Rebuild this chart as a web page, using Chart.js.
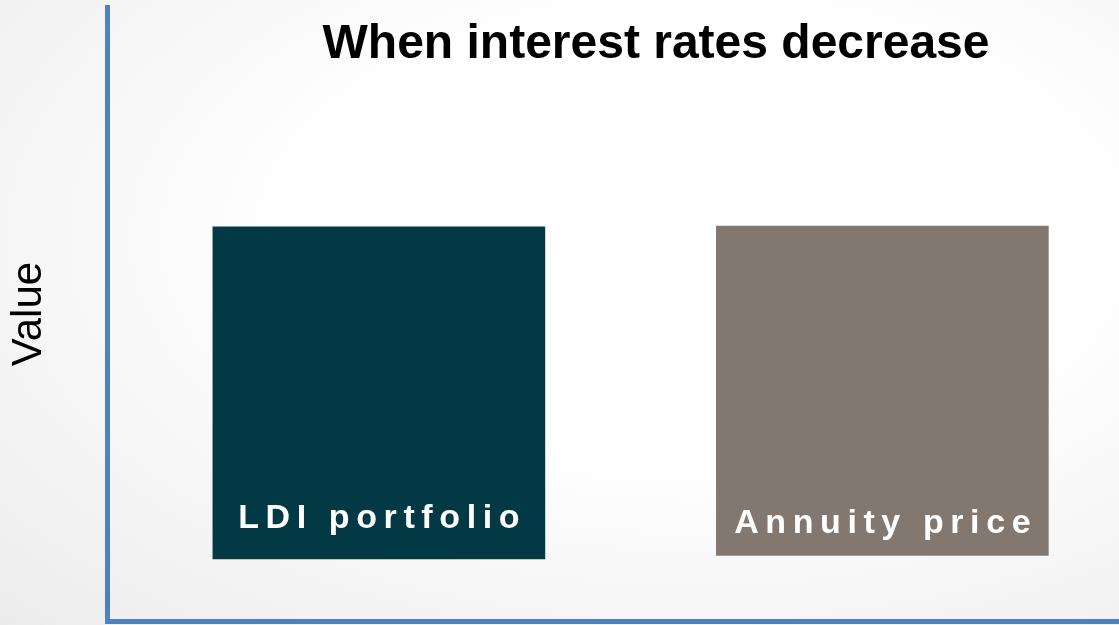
<!DOCTYPE html>
<html>
<head>
<meta charset="utf-8">
<title>When interest rates decrease</title>
<script src="https://cdn.jsdelivr.net/npm/chart.js@4.4.1/dist/chart.umd.min.js"></script>
<style>
  html, body { margin: 0; padding: 0; }
  body {
    width: 1119px;
    height: 625px;
    overflow: hidden;
    background: radial-gradient(ellipse at 62% 38%, #ffffff 40%, #ececec 100%);
  }
  canvas { display: block; }
</style>
</head>
<body>
<canvas id="chart" width="1119" height="625"></canvas>
<script>
// Bars: position on the x axis, floating from low to high value
const labels = ['LDI portfolio', 'Annuity price'];
const positions = [0, 1];
const lowValues = [10.1, 10.7];
const highValues = [64.2, 64.3];
const barColors = ['#033845', '#83786f'];

const chartTitle = 'When interest rates decrease';
const yTitle = 'Value';

const FONT = '"Liberation Sans", Arial, Helvetica, sans-serif';
const AXIS_BLUE = '#4f81bd';
// how far above each bar's bottom edge its label baseline sits (px)
const labelLift = [31, 22];

// Heading and the white labels sitting inside each bar
const annotate = {
  id: 'annotate',
  afterDatasetsDraw(chart) {
    const ctx = chart.ctx;
    const meta = chart.getDatasetMeta(0);

    ctx.save();
    ctx.fillStyle = '#ffffff';
    ctx.font = 'bold 34px ' + FONT;
    ctx.textAlign = 'center';
    ctx.textBaseline = 'alphabetic';
    ctx.letterSpacing = '6.6px';
    meta.data.forEach((bar, i) => {
      // letterSpacing pads after the last glyph too, so nudge right by half
      ctx.fillText(labels[i], bar.x + 3.3, bar.base - labelLift[i]);
    });
    ctx.restore();

    ctx.save();
    ctx.fillStyle = '#000000';
    ctx.font = 'bold 48px ' + FONT;
    ctx.textAlign = 'center';
    ctx.textBaseline = 'alphabetic';
    ctx.fillText(chartTitle, 656, 58);
    ctx.restore();
  }
};

new Chart(document.getElementById('chart'), {
  type: 'bar',
  data: {
    labels,
    datasets: [{
      data: positions.map((x, i) => ({ x, y: [lowValues[i], highValues[i]] })),
      backgroundColor: barColors,
      borderWidth: 0,
      borderSkipped: false,
      barThickness: 332
    }]
  },
  options: {
    responsive: false,
    animation: false,
    devicePixelRatio: 1,
    layout: { padding: { left: 0, top: 7, right: 0, bottom: 4 } },
    plugins: {
      legend: { display: false },
      tooltip: { enabled: false }
    },
    scales: {
      x: {
        type: 'linear',
        offset: false,
        min: -0.54,
        max: 1.47,
        ticks: { display: false },
        grid: { display: false },
        border: { color: AXIS_BLUE, width: 5 },
        afterFit: s => { s.height = 0; }
      },
      y: {
        min: 0,
        max: 100,
        ticks: { display: false },
        grid: { display: false },
        border: { color: AXIS_BLUE, width: 5 },
        title: {
          display: true,
          text: yTitle,
          color: '#000000',
          font: { family: FONT, size: 42, weight: 'normal' },
          padding: { top: 4, bottom: 0 }
        },
        // axis line sits at x = 107
        afterFit: s => { s.width = 107; }
      }
    }
  },
  plugins: [annotate]
});
</script>
</body>
</html>
